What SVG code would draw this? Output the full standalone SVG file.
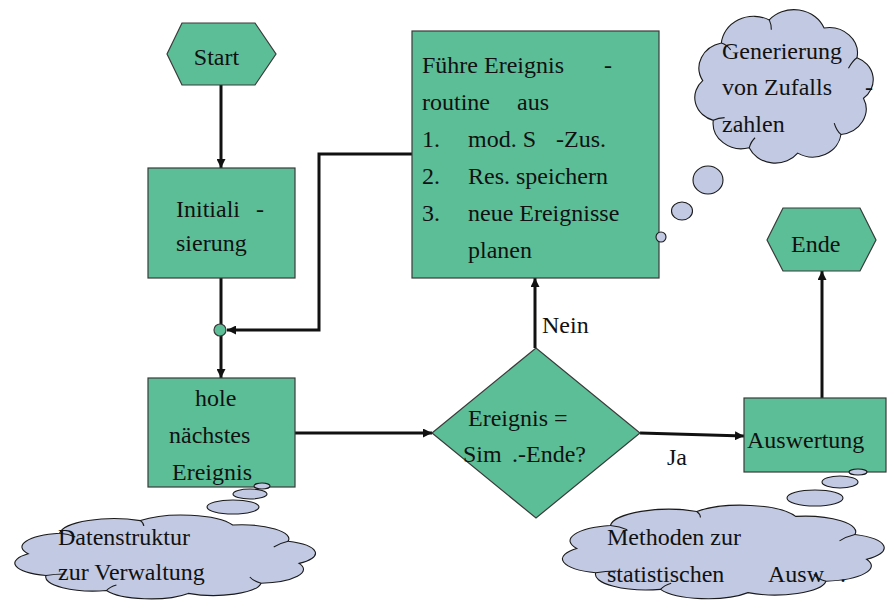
<svg xmlns="http://www.w3.org/2000/svg" xmlns:xlink="http://www.w3.org/1999/xlink" width="888" height="603" viewBox="0 0 888 603">
  <style>
    .box { fill: #5CBE97; stroke: #3a3a3a; stroke-width: 1.2; }
    .cloud { fill: #C2C9E3; stroke: #1a1a1a; stroke-width: 1.1; vector-effect: non-scaling-stroke; }
    .bubble { fill: #C2C9E3; stroke: #1a1a1a; stroke-width: 1.1; }
    .crease { fill: none; stroke: #1a1a1a; stroke-width: 1.1; vector-effect: non-scaling-stroke; }
    .wire { fill: none; stroke: #111; stroke-width: 3; }
    text { font-family: "Liberation Serif", "Times New Roman", serif; font-size: 24px; fill: #111; }
  </style>
  <defs>
    <marker id="ah" viewBox="0 0 10 10" refX="10" refY="5" markerWidth="9" markerHeight="9" markerUnits="userSpaceOnUse" orient="auto">
      <path d="M0,0 L10,5 L0,10 z" fill="#111"/>
    </marker>
    <!-- cloud outline in a 100x100 unit box, scaled per use -->
    <g id="cloudShape">
      <path class="cloud" d="M43,13.6 A16,16 0 0 1 70,18 A14,14 0 0 1 86.2,34.3 A13,13 0 0 1 89.4,56.4 A14,14 0 0 1 78.3,76.2 A14,14 0 0 1 57,86.4 A14,14 0 0 1 33.1,83.5 A14,14 0 0 1 15.4,68.5 A13,13 0 0 1 10.2,46.8 A14,14 0 0 1 19.4,26.2 A16,16 0 0 1 43,13.6 Z"/>
      <path class="crease" d="M19.4,26.2 Q22,27 24,30 M43,13.6 Q44,16 44,19 M86.2,34.3 Q84,36 82,40 M78.3,76.2 Q76,74 75,70 M33.1,83.5 Q34,80 36,78 M15.4,68.5 Q18,67 21,67"/>
    </g>
  </defs>

  <!-- connectors -->
  <g id="connectors">
    <path class="wire" d="M221,85 V168" marker-end="url(#ah)"/>
    <path class="wire" d="M221,278 V378" marker-end="url(#ah)"/>
    <path class="wire" d="M412,154 H319 V330 H227" marker-end="url(#ah)"/>
    <path class="wire" d="M295,433 H432" marker-end="url(#ah)"/>
    <path class="wire" d="M535,348 V278" marker-end="url(#ah)"/>
    <path class="wire" d="M640,433 L744,436" marker-end="url(#ah)"/>
    <path class="wire" d="M822,398 V271" marker-end="url(#ah)"/>
  </g>

  <g id="start">
    <polygon class="box" points="167,54 182,23 255,23 276,54 255,85 182,85"/>
    <text x="216.5" y="65" text-anchor="middle">Start</text>
  </g>

  <g id="init">
    <rect class="box" x="148" y="168" width="147" height="110"/>
    <text x="176" y="217">Initiali</text>
    <text x="256" y="217">-</text>
    <text x="176" y="251">sierung</text>
  </g>

  <g id="junction">
    <circle cx="220" cy="330" r="6" fill="#5CBE97" stroke="#3a3a3a" stroke-width="1.2"/>
  </g>

  <g id="next-event">
    <rect class="box" x="148" y="378" width="147" height="109"/>
    <text x="195" y="406">hole</text>
    <text x="169" y="443">nächstes</text>
    <text x="172" y="480">Ereignis</text>
  </g>

  <g id="routine">
    <rect class="box" x="412" y="31" width="247" height="247"/>
    <text x="422" y="73">Führe Ereignis</text>
    <text x="604" y="73">-</text>
    <text x="422" y="110">routine</text>
    <text x="517" y="110">aus</text>
    <text x="422" y="147">1.</text>
    <text x="468" y="147">mod. S</text>
    <text x="556" y="147">-Zus.</text>
    <text x="422" y="184">2.</text>
    <text x="468" y="184">Res. speichern</text>
    <text x="422" y="221">3.</text>
    <text x="468" y="221">neue Ereignisse</text>
    <text x="468" y="258">planen</text>
  </g>

  <g id="decision">
    <polygon class="box" points="432,433 536,348 640,433 536,518"/>
    <text x="468" y="426">Ereignis =</text>
    <text x="463" y="462">Sim</text>
    <text x="512" y="462">.-Ende?</text>
  </g>

  <g id="label-nein">
    <text x="542" y="333">Nein</text>
  </g>
  <g id="label-ja">
    <text x="667" y="465">Ja</text>
  </g>

  <g id="evaluation">
    <rect class="box" x="744" y="398" width="142" height="74"/>
    <text x="747" y="448">Auswertung</text>
  </g>

  <g id="end">
    <polygon class="box" points="767,240 783,208 860,208 876,240 860,271 783,271"/>
    <text x="791" y="252">Ende</text>
  </g>

  <!-- thought clouds -->
  <g id="cloud-random">
    <use xlink:href="#cloudShape" transform="translate(682,-5) scale(2.03,1.83)"/>
    <ellipse class="bubble" cx="708" cy="180" rx="15" ry="14"/>
    <ellipse class="bubble" cx="682" cy="211" rx="10.5" ry="9"/>
    <ellipse class="bubble" cx="661" cy="237" rx="5" ry="5"/>
    <text x="722" y="59">Generierung</text>
    <text x="722" y="95">von Zufalls</text>
    <text x="865" y="95">-</text>
    <text x="722" y="132">zahlen</text>
  </g>

  <g id="cloud-data">
    <use xlink:href="#cloudShape" transform="translate(-6.7,507) scale(3.42,1.0)"/>
    <ellipse class="bubble" cx="262" cy="486" rx="8" ry="3"/>
    <ellipse class="bubble" cx="250" cy="494" rx="17" ry="5"/>
    <ellipse class="bubble" cx="233" cy="507" rx="26" ry="7"/>
    <text x="58" y="545">Datenstruktur</text>
    <text x="58" y="580">zur Verwaltung</text>
  </g>

  <g id="cloud-stats">
    <use xlink:href="#cloudShape" transform="translate(539.4,496.3) scale(3.66,1.115)"/>
    <ellipse class="bubble" cx="858" cy="472" rx="9" ry="3"/>
    <ellipse class="bubble" cx="840" cy="482" rx="18" ry="6"/>
    <ellipse class="bubble" cx="815" cy="498" rx="28" ry="8"/>
    <text x="607" y="545">Methoden zur</text>
    <text x="607" y="582">statistischen</text>
    <text x="768" y="582">Ausw</text>
    <text x="840" y="582">.</text>
  </g>
</svg>
